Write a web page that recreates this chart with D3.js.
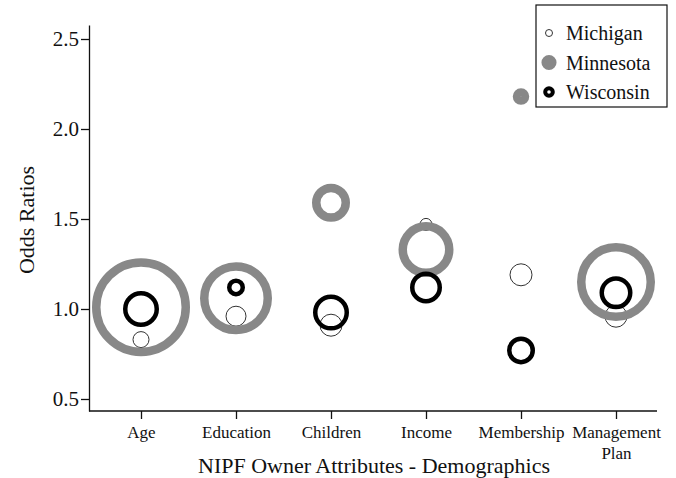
<!DOCTYPE html>
<html>
<head>
<meta charset="utf-8">
<script src="https://cdn.jsdelivr.net/npm/d3@7"></script>
<style>
  body { margin: 0; background: #fff; }
  text { font-family: "Liberation Serif", "Times New Roman", serif; fill: #111; }
</style>
</head>
<body>
<script>
// categories along the x axis
var categories = ["Age", "Education", "Children", "Income", "Membership", "Management Plan"];

// odds ratios per state
var michigan  = [0.83, 0.96, 0.91, 1.47, 1.19, 0.96];
var minnesota = [1.01, 1.06, 1.59, 1.33, 2.18, 1.15];
var wisconsin = [1.00, 1.12, 0.98, 1.12, 0.77, 1.09];

// relative bubble size per state (0..1)
var michiganSize  = [0.17, 0.21, 0.23, 0.13, 0.23, 0.23];
var minnesotaSize = [0.98, 0.72, 0.38, 0.55, 0.165, 0.78];
var wisconsinSize = [0.36, 0.18, 0.36, 0.32, 0.28, 0.33];

var yTicks = [0.5, 1.0, 1.5, 2.0, 2.5];

var width = 676, height = 478;

var svg = d3.select("body")
  .append("svg")
  .attr("width", width)
  .attr("height", height);

var xScale = d3.scalePoint()
  .domain(categories)
  .range([141, 616]);

var yScale = d3.scaleLinear()
  .domain([0.4333, 2.5778])
  .range([411, 25]);

// outer radius of bubble in px
var rScale = d3.scaleLinear().domain([0, 1]).range([0, 50]);

var series = [
  {name: "Michigan",  values: michigan,  sizes: michiganSize,  stroke: "#333", width: 1,   fill: "none"},
  {name: "Minnesota", values: minnesota, sizes: minnesotaSize, stroke: "#888", width: 8.5, fill: "none"},
  {name: "Wisconsin", values: wisconsin, sizes: wisconsinSize, stroke: "#000", width: 4.5, fill: "none"}
];

// bubbles
series.forEach(function(s) {
  svg.append("g")
    .selectAll("circle")
    .data(categories)
    .enter()
    .append("circle")
    .attr("cx", function(d) { return xScale(d); })
    .attr("cy", function(d, i) { return yScale(s.values[i]); })
    .attr("r", function(d, i) { return Math.max(0.5, rScale(s.sizes[i]) - s.width / 2); })
    .attr("fill", s.fill)
    .attr("stroke", s.stroke)
    .attr("stroke-width", s.width);
});

// y axis
var yAxis = svg.append("g")
  .attr("transform", "translate(89,0)")
  .call(d3.axisLeft(yScale).tickValues(yTicks).tickFormat(d3.format(".1f")).tickSize(8).tickSizeOuter(0));
yAxis.select(".domain").attr("stroke", "#111").attr("stroke-width", 1.3);
yAxis.selectAll(".tick line").attr("stroke", "#111").attr("stroke-width", 1.3);
yAxis.selectAll(".tick text").style("font-size", "21px").attr("x", -10);

// x axis
var xAxis = svg.append("g")
  .attr("transform", "translate(0,411)")
  .call(d3.axisBottom(xScale).tickSize(8).tickSizeOuter(0));
xAxis.select(".domain").remove();
xAxis.append("line")
  .attr("x1", 89).attr("x2", 657)
  .attr("stroke", "#111").attr("stroke-width", 1.3);
xAxis.selectAll(".tick line").attr("stroke", "#111").attr("stroke-width", 1.3);
xAxis.selectAll(".tick text").remove();
xAxis.selectAll(".tick").each(function(d) {
  var t = d3.select(this).append("text")
    .attr("text-anchor", "middle")
    .attr("y", 27)
    .style("font-size", "17px");
  if (d == "Management Plan") {
    t.append("tspan").attr("x", 0).text("Management");
    t.append("tspan").attr("x", 0).attr("dy", 21).text("Plan");
  } else {
    t.text(d);
  }
});

// axis titles
svg.append("text")
  .attr("x", 374)
  .attr("y", 473)
  .attr("text-anchor", "middle")
  .style("font-size", "22px")
  .text("NIPF Owner Attributes - Demographics");

svg.append("text")
  .attr("transform", "translate(34,220) rotate(-90)")
  .attr("text-anchor", "middle")
  .style("font-size", "22px")
  .text("Odds Ratios");

// legend
var legend = svg.append("g");
legend.append("rect")
  .attr("x", 536).attr("y", 5)
  .attr("width", 131).attr("height", 102)
  .attr("fill", "#fff")
  .attr("stroke", "#111")
  .attr("stroke-width", 1.2);

var legendSym = [
  {r: 3.5, width: 1,   stroke: "#333", fill: "#fff"},
  {r: 3.8, width: 7.5, stroke: "#888", fill: "#888"},
  {r: 3.8, width: 4,   stroke: "#000", fill: "#fff"}
];

series.forEach(function(s, i) {
  var y = 33 + i * 29.5;
  legend.append("circle")
    .attr("cx", 549).attr("cy", y)
    .attr("r", legendSym[i].r)
    .attr("fill", legendSym[i].fill)
    .attr("stroke", legendSym[i].stroke)
    .attr("stroke-width", legendSym[i].width);
  legend.append("text")
    .attr("x", 566).attr("y", y + 7)
    .style("font-size", "20px")
    .text(s.name);
});
</script>
</body>
</html>
